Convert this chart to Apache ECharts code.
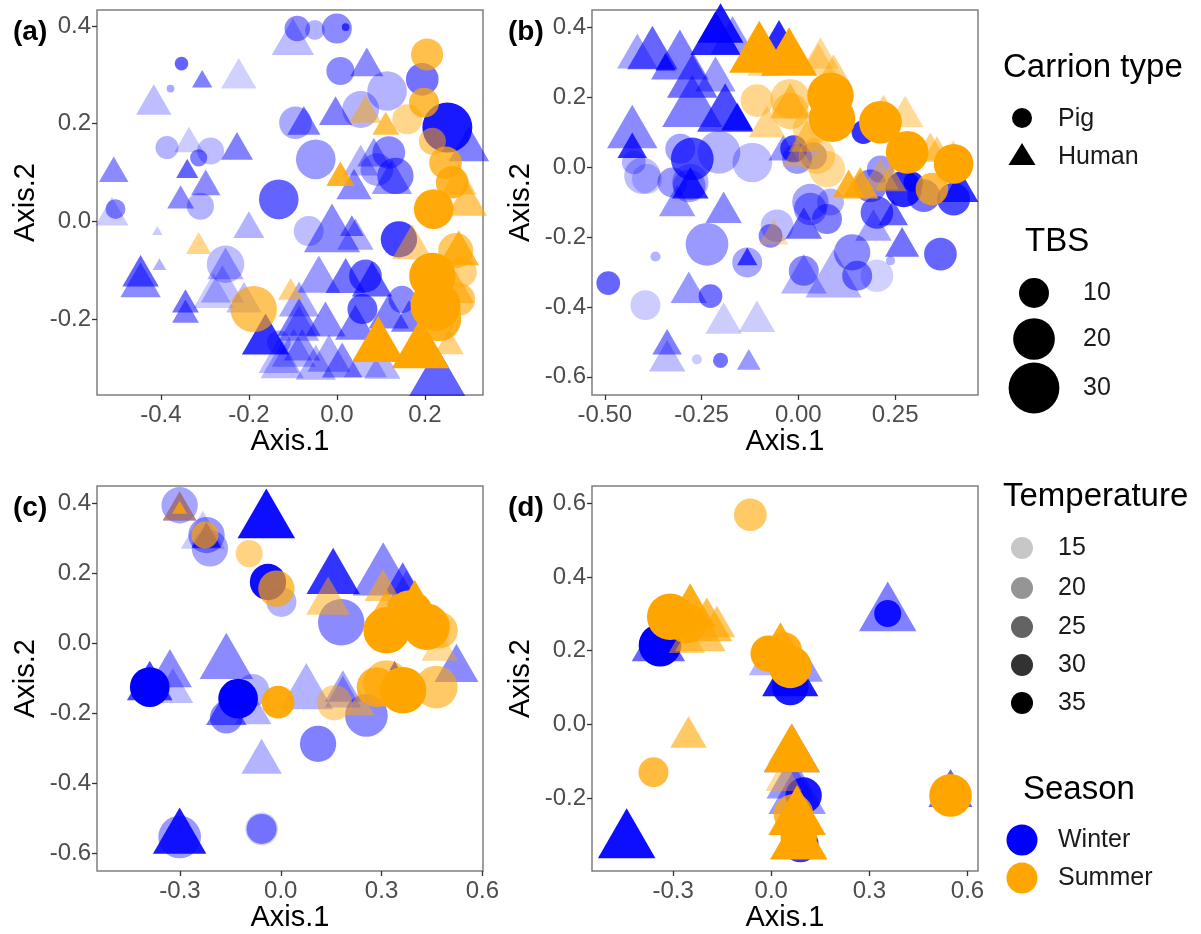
<!DOCTYPE html>
<html>
<head>
<meta charset="utf-8">
<script src="https://cdn.jsdelivr.net/npm/echarts@6/dist/echarts.min.js"></script>
<style>
  html, body { margin: 0; padding: 0; background: #ffffff; }
  #chart { width: 1201px; height: 934px; }
</style>
</head>
<body>
<div id="chart"></div>
<script>
// Ordination scores, one row per sample: [Axis.1, Axis.2, TBS, Temperature]

// (a)
const aWinterPig = [
  [-0.09, 0.395, 7, 21], [-0.05, 0.392, 4, 17], [0.0, 0.395, 10, 21], [0.02, 0.398, 0, 27],
  [-0.353, 0.323, 1.5, 25], [-0.378, 0.272, 0, 18], [0.008, 0.308, 8.6, 21], [0.194, 0.291, 12, 23.5],
  [0.114, 0.267, 18, 17], [0.251, 0.192, 29, 32.5], [0.054, 0.229, 15.5, 17], [-0.094, 0.202, 12, 18],
  [-0.048, 0.127, 18, 19.5], [0.118, 0.141, 12, 21], [0.133, 0.093, 15, 22], [0.091, 0.106, 12, 18],
  [-0.132, 0.045, 18, 25], [-0.386, 0.151, 5.6, 17], [-0.287, 0.144, 8, 16], [-0.314, 0.13, 2.8, 22],
  [-0.31, 0.031, 8, 17], [-0.503, 0.025, 4, 21], [-0.253, -0.088, 16, 16], [-0.064, -0.02, 10, 16],
  [0.141, -0.037, 15, 28.5], [0.065, -0.112, 12, 25], [0.058, -0.18, 10, 25], [-0.132, -0.248, 6, 18],
  [0.148, -0.16, 8, 21]
];
const aWinterHuman = [
  [-0.1, 0.366, 11, 16], [-0.306, 0.286, 2, 22], [-0.223, 0.293, 7.5, 14], [-0.416, 0.239, 7.5, 16],
  [0.068, 0.317, 6.5, 21], [-0.003, 0.217, 6.5, 22], [-0.075, 0.197, 6.5, 22], [0.3, 0.147, 10, 22],
  [0.084, 0.132, 6.5, 19.5], [0.054, 0.115, 7.5, 17], [-0.336, 0.159, 5, 14.5], [-0.227, 0.145, 6, 22],
  [-0.34, 0.102, 2.5, 25], [-0.507, 0.098, 5, 21], [-0.298, 0.071, 5, 21], [-0.355, 0.042, 4, 21],
  [-0.511, 0.011, 6.5, 14.5], [-0.408, -0.022, 0, 14.5], [-0.2, -0.016, 5.6, 17], [-0.403, -0.092, 0.5, 17],
  [-0.446, -0.112, 8, 25], [-0.446, -0.132, 10, 21], [-0.253, -0.097, 8, 17], [-0.26, -0.141, 11.5, 16],
  [-0.344, -0.171, 4, 23.5], [-0.344, -0.192, 4, 22], [-0.162, -0.245, 14, 30], [-0.28, -0.154, 10, 14.5],
  [-0.211, -0.166, 7.5, 16], [-0.086, -0.221, 10, 18], [-0.098, -0.272, 12, 17], [-0.132, -0.287, 10, 16],
  [-0.011, -0.03, 20, 21], [0.042, -0.037, 8, 18], [0.228, -0.325, 20, 25], [-0.041, -0.121, 11.5, 19.5],
  [0.02, -0.123, 10, 23.5], [0.08, -0.13, 10, 25], [-0.086, -0.171, 10, 18], [-0.026, -0.212, 10, 21],
  [0.042, -0.219, 10, 22], [0.118, -0.196, 10, 22], [-0.079, -0.264, 8, 19.5], [-0.018, -0.283, 11.5, 18],
  [-0.048, -0.301, 10, 17], [0.103, -0.301, 8, 17], [0.012, -0.296, 10, 21], [-0.086, -0.209, 11.5, 22],
  [-0.124, -0.296, 11.5, 16], [0.065, -0.294, 11.5, 16], [0.039, 0.066, 7.5, 21], [0.125, 0.08, 10, 19.5],
  [0.034, -0.016, 3, 22], [0.164, -0.205, 8, 22]
];
const aSummerPig = [
  [0.205, 0.342, 11.5, 27.3], [0.198, 0.243, 10, 28.6], [0.16, 0.209, 10, 21], [0.217, 0.164, 8, 23.5],
  [0.247, 0.12, 12, 28.6], [0.262, 0.08, 12, 30], [-0.189, -0.18, 25, 26], [0.22, 0.025, 18, 34],
  [0.217, -0.112, 25, 35], [0.224, -0.173, 29, 35], [0.277, -0.16, 12, 25], [0.284, -0.104, 10, 22],
  [0.27, -0.06, 14, 24.7], [0.232, -0.2, 23, 32]
];
const aSummerHuman = [
  [0.065, 0.221, 6, 22], [0.111, 0.193, 4, 27.3], [0.008, 0.089, 4.5, 31], [-0.314, -0.052, 3.5, 21],
  [-0.105, -0.146, 3.5, 22], [0.171, -0.054, 10, 22], [0.277, -0.066, 10, 30], [0.295, 0.035, 10, 25],
  [0.277, 0.076, 7.5, 22], [0.094, -0.257, 17.5, 35], [0.19, -0.267, 21, 35], [0.255, -0.255, 5, 22],
  [0.27, -0.146, 8, 25]
];

// (b)
const bWinterPig = [
  [-0.274, 0.023, 21, 27.3], [-0.305, 0.052, 10, 18.3], [-0.205, 0.042, 21, 17], [-0.403, -0.025, 15, 16],
  [-0.119, 0.013, 18, 16], [-0.325, -0.044, 10, 19.6], [-0.282, -0.054, 12, 18.3], [-0.425, 0.013, 6, 17],
  [-0.391, -0.034, 10, 14.5], [-0.236, -0.221, 21, 19.6], [-0.369, -0.256, 0.5, 17], [-0.491, -0.332, 6, 24.7],
  [-0.395, -0.395, 10, 14.5], [-0.227, -0.369, 6, 23.5], [-0.262, -0.55, 0.5, 14.5], [-0.201, -0.553, 2, 23.5],
  [-0.132, -0.273, 10, 18.3], [-0.055, -0.168, 12, 16], [-0.072, -0.197, 6, 22], [0.031, -0.12, 12, 19.6],
  [0.074, -0.149, 10, 22], [0.014, -0.297, 10, 21], [0.139, -0.244, 15, 21], [0.152, -0.311, 10, 22],
  [0.203, -0.311, 12, 14], [0.203, -0.13, 12, 24.7], [0.238, -0.268, 0.3, 17], [0.367, -0.249, 12, 24.7],
  [0.401, -0.092, 12, 27.3], [0.324, -0.082, 12, 23.5], [0.272, -0.063, 15, 31], [0.186, -0.054, 12, 22],
  [-0.012, 0.052, 8, 27.3], [-0.003, 0.023, 10, 19.6], [0.039, 0.032, 8, 19.6], [0.212, -0.006, 8, 19.6],
  [0.031, -0.1, 15, 18.3], [0.083, -0.1, 8, 17], [0.168, 0.1, 6, 29.9], [0.297, -0.043, 4, 31],
  [-0.279, -0.043, 15, 17]
];
const bWinterHuman = [
  [-0.377, 0.321, 16, 24.7], [-0.306, 0.298, 21, 22], [-0.343, 0.293, 2, 29.9], [-0.214, 0.362, 16, 31],
  [-0.17, 0.359, 12, 19.6], [-0.274, 0.24, 16, 23.5], [-0.274, 0.164, 23, 22], [-0.214, 0.249, 10, 19.6],
  [-0.429, 0.095, 16, 21], [-0.429, 0.05, 5, 29.9], [-0.189, 0.147, 20, 27.3], [-0.05, 0.36, 8, 31],
  [-0.416, 0.315, 10, 18.3], [-0.201, 0.393, 13, 32.4], [-0.158, 0.131, 6, 31], [-0.279, -0.06, 8, 29.9],
  [-0.313, -0.111, 8, 19.6], [-0.193, -0.13, 8, 21], [-0.283, -0.359, 8, 19.6], [-0.193, -0.447, 8, 14.5],
  [-0.107, -0.442, 8, 14.5], [-0.339, -0.512, 5, 22], [-0.339, -0.555, 8, 16], [-0.128, -0.56, 3, 19.6],
  [-0.132, -0.264, 2, 27.3], [0.014, -0.175, 8, 23.5], [0.014, -0.324, 13, 17], [0.091, -0.327, 20, 17],
  [0.194, -0.181, 8, 18.3], [0.268, -0.228, 7, 23.5], [0.245, -0.142, 5, 24.7], [0.418, -0.07, 8, 29.9],
  [-0.039, 0.043, 5, 19.6]
];
const bSummerPig = [
  [-0.107, 0.19, 12, 21], [0.083, 0.204, 25, 35], [0.087, 0.138, 25, 35], [0.212, 0.128, 21, 35],
  [0.281, 0.042, 21, 35], [0.401, 0.009, 18, 35], [0.345, -0.063, 12, 28.6], [-0.021, 0.195, 18, 21],
  [0.031, 0.109, 14, 19.6], [0.074, -0.006, 15, 19.6], [-0.021, 0.16, 15, 22], [0.048, 0.032, 15, 19.6]
];
const bSummerHuman = [
  [-0.101, 0.319, 23, 35], [-0.024, 0.307, 20, 35], [0.057, 0.311, 8, 19.6], [0.091, 0.262, 8, 22],
  [0.276, 0.144, 8, 19.6], [0.358, 0.039, 5, 22], [0.4, 0.032, 4, 19.6], [0.22, 0.158, 5, 22],
  [0.16, -0.06, 8, 29.9], [0.212, -0.034, 8, 19.6], [-0.003, 0.026, 5, 19.6], [-0.081, 0.115, 8, 21],
  [-0.021, 0.173, 10, 24.7], [0.022, 0.074, 8, 22], [-0.09, 0.287, 6, 19.6], [0.052, 0.293, 8, 19.6],
  [0.238, -0.043, 6, 22], [0.341, 0.046, 6, 22], [-0.064, -0.197, 5, 18.3], [0.13, -0.06, 6, 31]
];

// (c)
const cWinterPig = [
  [-0.301, 0.394, 15, 18.3], [-0.221, 0.309, 15, 19.6], [-0.211, 0.271, 15, 18.3], [-0.038, 0.175, 15, 33.7],
  [0.002, 0.118, 10, 17], [0.18, 0.06, 25, 21], [0.255, -0.206, 21, 21], [0.111, -0.287, 15, 22],
  [-0.057, -0.53, 12, 14], [-0.057, -0.53, 10, 21], [-0.301, -0.553, 21, 19.6], [-0.39, -0.125, 18, 35],
  [-0.127, -0.158, 18, 35], [-0.162, -0.211, 12, 21], [-0.083, -0.134, 12, 17]
];
const cWinterHuman = [
  [-0.301, 0.378, 6.7, 24.7], [-0.221, 0.297, 5, 29.9], [-0.232, 0.306, 12, 14.5], [-0.043, 0.347, 21, 33.7],
  [0.156, 0.185, 18, 29.9], [0.305, 0.187, 24, 21], [0.374, 0.142, 10, 18.3], [0.363, 0.171, 8, 24.7],
  [0.523, -0.074, 12, 21], [0.339, -0.068, 0, 30], [0.185, -0.137, 8, 18.3], [0.076, -0.144, 18, 17],
  [0.185, -0.153, 8, 17], [-0.057, -0.339, 10, 17], [-0.301, -0.557, 18, 32.4], [-0.39, -0.125, 13, 27.3],
  [-0.33, -0.089, 12, 21], [-0.321, -0.137, 10, 16], [-0.162, -0.058, 18, 21], [-0.162, -0.2, 10, 23.5],
  [-0.082, -0.201, 8, 17]
];
const cSummerPig = [
  [-0.226, 0.309, 8, 27.3], [-0.094, 0.256, 8, 22], [-0.013, 0.156, 15, 27.3], [0.315, 0.037, 25, 35],
  [0.384, 0.085, 25, 35], [0.434, 0.047, 25, 35], [0.473, 0.037, 15, 24.7], [0.315, -0.115, 25, 24.7],
  [0.364, -0.134, 25, 35], [0.463, -0.125, 21, 24.7], [0.16, -0.17, 14, 21], [0.285, -0.125, 18, 29.9],
  [-0.008, -0.168, 12, 33.7]
];
const cSummerHuman = [
  [-0.301, 0.378, 6.7, 22], [-0.301, 0.382, 0.8, 29.9], [0.141, 0.118, 12, 22], [0.304, 0.151, 8, 23.5],
  [0.399, 0.088, 20, 35], [0.315, 0.082, 12, 27.3], [0.473, -0.02, 8, 19.6], [0.235, -0.182, 5, 22]
];

// (d)
const dWinterPig = [
  [0.356, 0.301, 8, 32.4], [-0.34, 0.215, 21, 35], [0.058, 0.101, 15, 32.4], [0.099, -0.193, 15, 32.4],
  [0.089, -0.325, 15, 29.9]
];
const dWinterHuman = [
  [0.356, 0.298, 21, 22], [-0.304, 0.289, 10, 24.7], [-0.345, 0.213, 18, 24.7], [-0.442, -0.318, 21, 33.7],
  [0.548, -0.19, 12, 24.7], [0.058, 0.12, 20, 32.4], [-0.013, 0.162, 8, 17], [0.109, 0.141, 6, 19.6],
  [0.063, -0.086, 20, 22], [0.058, -0.164, 14, 19.6], [0.079, -0.198, 21, 19.6]
];
const dSummerPig = [
  [-0.064, 0.569, 12, 24.7], [-0.309, 0.292, 25, 35], [-0.258, 0.274, 18, 32.4], [-0.36, -0.13, 10, 28.6],
  [0.548, -0.193, 21, 35], [-0.008, 0.192, 15, 35], [0.038, 0.201, 15, 32.4], [0.058, 0.156, 21, 35],
  [0.068, -0.243, 18, 29.9], [0.084, -0.307, 15, 35]
];
const dSummerHuman = [
  [-0.248, 0.304, 16, 32.4], [-0.197, 0.265, 16, 27.3], [-0.166, 0.265, 8, 24.7], [-0.217, 0.238, 16, 24.7],
  [-0.258, 0.222, 8, 22], [-0.253, -0.035, 8, 24.7], [0.028, 0.22, 8, 32.4], [0.063, -0.086, 20, 35],
  [0.058, -0.072, 12, 29.9], [0.038, -0.152, 8, 19.6], [0.079, -0.255, 21, 35], [0.084, -0.322, 21, 35]
];

// Axis ticks
const aXTicks = [-0.4, -0.2, 0.0, 0.2];
const aYTicks = [-0.2, 0.0, 0.2, 0.4];
const bXTicks = [-0.5, -0.25, 0.0, 0.25];
const bYTicks = [-0.6, -0.4, -0.2, 0.0, 0.2, 0.4];
const cXTicks = [-0.3, 0.0, 0.3, 0.6];
const cYTicks = [-0.6, -0.4, -0.2, 0.0, 0.2, 0.4];
const dXTicks = [-0.3, 0.0, 0.3, 0.6];
const dYTicks = [-0.2, 0.0, 0.2, 0.4, 0.6];

// Legend keys
const carrionTypes = ['Pig', 'Human'];
const tbsBreaks = [10, 20, 30];
const tempBreaks = [15, 20, 25, 30, 35];
const seasons = ['Winter', 'Summer'];

const FONT = '"Liberation Sans", Arial, Helvetica, sans-serif';
const SEASON_COLOR = { Winter: '#0000FF', Summer: '#FFA500' };

// temperature -> opacity, TBS -> point diameter (px)
const alphaOf = t => Math.min(1, Math.max(0.1, 0.1 + 0.9 * (t - 11.9) / 23.1));
const diamOf = tbs => Math.sqrt(Math.max(900 + 84 * (tbs - 10), 49));

function toItems(rows, shape) {
  return rows.map(r => {
    const d = diamOf(r[2]);
    const item = { value: r, itemStyle: { opacity: alphaOf(r[3]) } };
    if (shape === 'triangle') {
      const w = d * 1.347, h = d * 1.166;
      item.symbolSize = [w, h];
      item.symbolOffset = [0, -h / 6];
    } else {
      item.symbolSize = d;
    }
    return item;
  });
}

const panels = [
  { tag: '(a)', grid: { left: 97, top: 10, width: 386, height: 385 },
    x: [-0.545, 0.332], y: [-0.356, 0.433], xt: aXTicks, yt: aYTicks, xd: 1, yd: 1,
    sets: [aWinterPig, aWinterHuman, aSummerPig, aSummerHuman] },
  { tag: '(b)', grid: { left: 592, top: 10, width: 386, height: 385 },
    x: [-0.533, 0.464], y: [-0.652, 0.449], xt: bXTicks, yt: bYTicks, xd: 2, yd: 1,
    sets: [bWinterPig, bWinterHuman, bSummerPig, bSummerHuman] },
  { tag: '(c)', grid: { left: 97, top: 486, width: 386, height: 385 },
    x: [-0.547, 0.602], y: [-0.65, 0.449], xt: cXTicks, yt: cYTicks, xd: 1, yd: 1,
    sets: [cWinterPig, cWinterHuman, cSummerPig, cSummerHuman] },
  { tag: '(d)', grid: { left: 592, top: 486, width: 386, height: 385 },
    x: [-0.548, 0.632], y: [-0.398, 0.647], xt: dXTicks, yt: dYTicks, xd: 1, yd: 1,
    sets: [dWinterPig, dWinterHuman, dSummerPig, dSummerHuman] }
];

const grids = [], xAxes = [], yAxes = [], series = [], graphics = [];
const tickStyle = { show: true, length: 5, lineStyle: { color: '#333333', width: 1.3 } };
const labelBase = { fontSize: 24, color: '#4D4D4D', fontFamily: FONT };

panels.forEach((p, i) => {
  grids.push(Object.assign({ show: true, borderColor: '#7F7F7F', borderWidth: 1.5,
    backgroundColor: '#FFFFFF', containLabel: false }, p.grid));
  xAxes.push({
    type: 'value', gridIndex: i, min: p.x[0], max: p.x[1], position: 'bottom',
    splitLine: { show: false }, axisLine: { show: false, onZero: false },
    axisTick: Object.assign({ customValues: p.xt }, tickStyle),
    axisLabel: Object.assign({ customValues: p.xt, margin: 8,
      formatter: v => Number(v).toFixed(p.xd) }, labelBase),
    name: 'Axis.1', nameLocation: 'middle', nameGap: 32,
    nameTextStyle: { fontSize: 29, color: '#000000', fontFamily: FONT }
  });
  yAxes.push({
    type: 'value', gridIndex: i, min: p.y[0], max: p.y[1], position: 'left',
    splitLine: { show: false }, axisLine: { show: false, onZero: false },
    axisTick: Object.assign({ customValues: p.yt }, tickStyle),
    axisLabel: Object.assign({ customValues: p.yt, margin: 6,
      formatter: v => Number(v).toFixed(p.yd) }, labelBase),
    name: 'Axis.2', nameLocation: 'middle', nameGap: 57,
    nameTextStyle: { fontSize: 29, color: '#000000', fontFamily: FONT }
  });
  const kinds = [['Winter', 'circle'], ['Winter', 'triangle'], ['Summer', 'circle'], ['Summer', 'triangle']];
  kinds.forEach((k, j) => {
    series.push({
      type: 'scatter', xAxisIndex: i, yAxisIndex: i,
      symbol: k[1], data: toItems(p.sets[j], k[1]),
      itemStyle: { color: SEASON_COLOR[k[0]] },
      emphasis: { disabled: true }, silent: true
    });
  });
  graphics.push({ type: 'text', x: p.grid.left - 84, y: p.grid.top + 22,
    style: { text: p.tag, font: 'bold 28px ' + FONT, fill: '#000000', verticalAlign: 'middle', align: 'left' } });
});

// Legend drawn on the right
const LX = 1003, KX = 1022, TX = 1058;
function title(text, x, y) {
  graphics.push({ type: 'text', x: x, y: y,
    style: { text: text, font: '33px ' + FONT, fill: '#000000', verticalAlign: 'middle', align: 'left' } });
}
function label(text, x, y) {
  graphics.push({ type: 'text', x: x, y: y,
    style: { text: text, font: '25px ' + FONT, fill: '#1A1A1A', verticalAlign: 'middle', align: 'left' } });
}

title('Carrion type', LX, 68);
// Pig / Human shape keys
graphics.push({ type: 'circle', shape: { cx: KX, cy: 118, r: 10 }, style: { fill: '#000000' } });
label(carrionTypes[0], TX, 119);
graphics.push({ type: 'polygon', shape: { points: [[KX, 143], [KX + 13.5, 165], [KX - 13.5, 165]] }, style: { fill: '#000000' } });
label(carrionTypes[1], TX, 157);

title('TBS', 1025, 242);
const tbsY = [293, 339, 388];
tbsBreaks.forEach((b, k) => {
  graphics.push({ type: 'circle', shape: { cx: 1034, cy: tbsY[k], r: diamOf(b) / 2 }, style: { fill: '#000000' } });
  label(String(b), 1083, tbsY[k]);
});

title('Temperature', LX, 497);
const tempY = [548, 588, 627, 665, 703];
tempBreaks.forEach((t, k) => {
  graphics.push({ type: 'circle', shape: { cx: KX, cy: tempY[k], r: 11 },
    style: { fill: '#000000', opacity: alphaOf(t) } });
  label(String(t), TX, tempY[k]);
});

title('Season', 1023, 790);
const seasonY = [840, 878];
seasons.forEach((s, k) => {
  graphics.push({ type: 'circle', shape: { cx: KX, cy: seasonY[k], r: 15.5 }, style: { fill: SEASON_COLOR[s] } });
  label(s, TX, seasonY[k]);
});

const chart = echarts.init(document.getElementById('chart'), null, { renderer: 'canvas' });
chart.setOption({
  animation: false,
  backgroundColor: '#FFFFFF',
  textStyle: { fontFamily: FONT },
  grid: grids, xAxis: xAxes, yAxis: yAxes, series: series,
  graphic: graphics
});
</script>
</body>
</html>
